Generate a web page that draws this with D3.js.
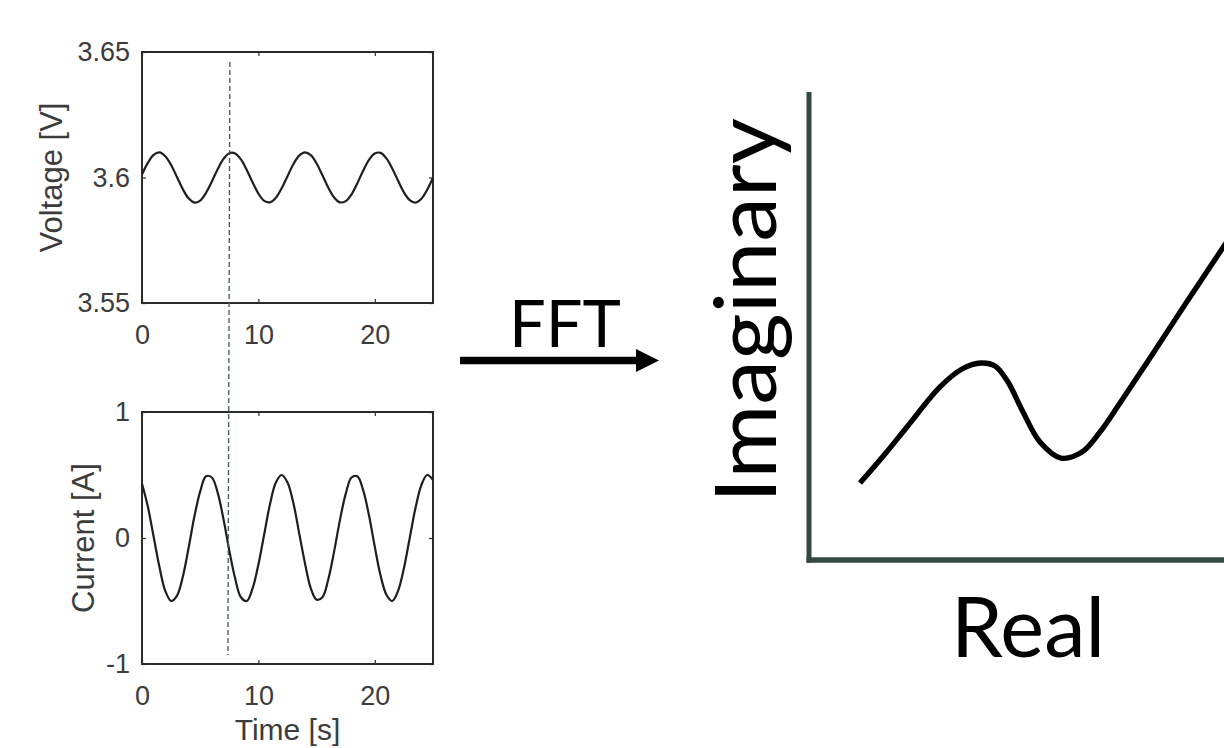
<!DOCTYPE html>
<html>
<head>
<meta charset="utf-8">
<script src="https://cdn.jsdelivr.net/npm/d3@7"></script>
<style>
  html, body { margin: 0; padding: 0; background: #fff; }
  svg { display: block; }
</style>
</head>
<body>
<svg id="chart" width="1224" height="748"></svg>
<script>
// ---------------- DATA ----------------
const timeTicks = [0, 10, 20];
const voltageTicks = [3.55, 3.6, 3.65];
const currentTicks = [-1, 0, 1];

const timeSamples = [0,0.5,1,1.5,2,2.5,3,3.5,4,4.5,5,5.5,6,6.5,7,7.5,8,8.5,9,9.5,10,10.5,11,11.5,12,12.5,13,13.5,14,14.5,15,15.5,16,16.5,17,17.5,18,18.5,19,19.5,20,20.5,21,21.5,22,22.5,23,23.5,24,24.5,25];
const voltageValues = [3.6012,3.6058,3.6090,3.6100,3.6085,3.6050,3.6002,3.5954,3.5917,3.5900,3.5908,3.5939,3.5984,3.6033,3.6074,3.6097,3.6096,3.6072,3.6030,3.5981,3.5936,3.5907,3.5901,3.5919,3.5957,3.6005,3.6053,3.6087,3.6100,3.6089,3.6056,3.6009,3.5960,3.5921,3.5901,3.5906,3.5933,3.5977,3.6027,3.6070,3.6096,3.6098,3.6076,3.6036,3.5987,3.5941,3.5910,3.5900,3.5915,3.5951,3.5999];
const currentValues = [0.43,0.25,0.01,-0.23,-0.42,-0.50,-0.46,-0.31,-0.08,0.17,0.37,0.49,0.48,0.36,0.15,-0.10,-0.32,-0.47,-0.50,-0.40,-0.21,0.03,0.27,0.44,0.50,0.44,0.28,0.04,-0.20,-0.40,-0.49,-0.47,-0.33,-0.11,0.14,0.35,0.48,0.49,0.38,0.18,-0.07,-0.30,-0.45,-0.50,-0.42,-0.24,0.00,0.24,0.42,0.50,0.46];

// dashed marker time (top end, bottom end)
const markerTimes = [7.55, 7.38];

// schematic impedance curve (arbitrary units)
const realVals = [1.229,1.831,2.361,3.157,3.687,4.145,4.482,4.795,5.133,5.566,6.072,6.578,7.012,7.494,8.217,9.133,10.0,10.386];
const imagVals = [1.645,2.265,2.842,3.697,4.081,4.209,4.145,3.803,3.205,2.521,2.179,2.308,2.735,3.355,4.316,5.556,6.709,7.244];

// ---------------- DRAW ----------------
const svg = d3.select("#chart");
const tickFont = "'Liberation Sans', Arial, sans-serif";
const textGrey = "#3c3c3c";
const boxColor = "#2b2b2b";

const x = d3.scaleLinear().domain([0, 25]).range([142, 433]);
const yV = d3.scaleLinear().domain([3.55, 3.65]).range([303, 52]);
const yI = d3.scaleLinear().domain([-1, 1]).range([664, 412]);

function panel(yScale, yTicks, values, opts) {
  const g = svg.append("g");
  const [x0, x1] = x.range();
  const [y0, y1] = yScale.range();
  const fmt = d => String(d);
  const bottom = g.append("g").attr("transform", `translate(0,${y0})`)
    .call(d3.axisBottom(x).tickValues(timeTicks).tickSizeInner(-4).tickSizeOuter(0).tickPadding(22).tickFormat(fmt));
  const top = g.append("g").attr("transform", `translate(0,${y1})`)
    .call(d3.axisTop(x).tickValues(timeTicks).tickSizeInner(-4).tickSizeOuter(0).tickFormat(""));
  const left = g.append("g").attr("transform", `translate(${x0},0)`)
    .call(d3.axisLeft(yScale).tickValues(yTicks).tickSizeInner(-4).tickSizeOuter(0).tickPadding(12).tickFormat(fmt));
  const right = g.append("g").attr("transform", `translate(${x1},0)`)
    .call(d3.axisRight(yScale).tickValues(yTicks).tickSizeInner(-4).tickSizeOuter(0).tickFormat(""));
  [bottom, top, left, right].forEach(a => {
    a.select(".domain").remove();
    a.selectAll(".tick line").attr("stroke", boxColor).attr("stroke-width", 1.2);
    a.selectAll("text").attr("font-family", tickFont).attr("font-size", 27).attr("fill", textGrey);
  });
  g.append("rect").attr("x", x0).attr("y", y1).attr("width", x1 - x0).attr("height", y0 - y1)
    .attr("fill", "none").attr("stroke", boxColor).attr("stroke-width", 2);
  const line = d3.line().x((d, i) => x(timeSamples[i])).y(d => yScale(d)).curve(d3.curveCatmullRom);
  g.append("path").datum(values).attr("d", line).attr("fill", "none")
    .attr("stroke", "#1e1e1e").attr("stroke-width", 2.2);
  g.append("text").attr("transform", `translate(${opts.labelX},${(y0 + y1) / 2}) rotate(-90)`)
    .attr("text-anchor", "middle").attr("font-family", tickFont).attr("font-size", 31)
    .attr("fill", textGrey).text(opts.ylabel);
  return g;
}

panel(yV, voltageTicks, voltageValues, { ylabel: "Voltage [V]", labelX: 62 });
panel(yI, currentTicks, currentValues, { ylabel: "Current [A]", labelX: 94 });

svg.append("text").attr("x", (x.range()[0] + x.range()[1]) / 2).attr("y", 740)
  .attr("text-anchor", "middle").attr("font-family", tickFont).attr("font-size", 30)
  .attr("fill", textGrey).text("Time [s]");

// dashed marker across both panels
svg.append("line")
  .attr("x1", x(markerTimes[0])).attr("y1", 62)
  .attr("x2", x(markerTimes[1])).attr("y2", 655)
  .attr("stroke", "#3d5a4c").attr("stroke-width", 1.3).attr("stroke-dasharray", "5,3");

// FFT arrow
const bigFont = "Lato, 'Open Sans', sans-serif";
svg.append("defs").append("marker").attr("id", "head")
  .attr("viewBox", "0 0 10 10").attr("refX", 0).attr("refY", 5)
  .attr("markerUnits", "userSpaceOnUse").attr("markerWidth", 23).attr("markerHeight", 24)
  .attr("orient", "auto")
  .append("path").attr("d", "M0,0 L10,5 L0,10 Z").attr("fill", "#000");
svg.append("line").attr("x1", 460).attr("y1", 360.5).attr("x2", 636).attr("y2", 360.5)
  .attr("stroke", "#000").attr("stroke-width", 7.5).attr("marker-end", "url(#head)");
svg.append("text").attr("x", 565).attr("y", 347).attr("text-anchor", "middle")
  .attr("font-family", bigFont).attr("font-size", 65).attr("fill", "#000").text("FFT");

// Schematic impedance plot
const xR = d3.scaleLinear().domain([0, 10]).range([809, 1224]);
const yIm = d3.scaleLinear().domain([0, 10]).range([560, 92]);
const axisColor = "#34493e";
svg.append("line").attr("x1", xR(0)).attr("y1", yIm(10)).attr("x2", xR(0)).attr("y2", yIm(0) + 2.75)
  .attr("stroke", axisColor).attr("stroke-width", 5);
svg.append("line").attr("x1", xR(0) - 2.5).attr("y1", yIm(0)).attr("x2", xR(10.5)).attr("y2", yIm(0))
  .attr("stroke", axisColor).attr("stroke-width", 5.5);

const curve = d3.line().x((d, i) => xR(realVals[i])).y(d => yIm(d)).curve(d3.curveCatmullRom.alpha(0.5));
svg.append("path").datum(imagVals).attr("d", curve).attr("fill", "none")
  .attr("stroke", "#000").attr("stroke-width", 5.3);

svg.append("text").attr("transform", `translate(776,${(118 + 503) / 2}) rotate(-90)`)
  .attr("text-anchor", "middle").attr("font-family", bigFont).attr("font-size", 86)
  .attr("textLength", 385).attr("lengthAdjust", "spacingAndGlyphs")
  .attr("fill", "#000").text("Imaginary");
svg.append("text").attr("x", 951).attr("y", 657)
  .attr("font-family", bigFont).attr("font-size", 83).attr("fill", "#000").text("Real");
</script>
</body>
</html>
